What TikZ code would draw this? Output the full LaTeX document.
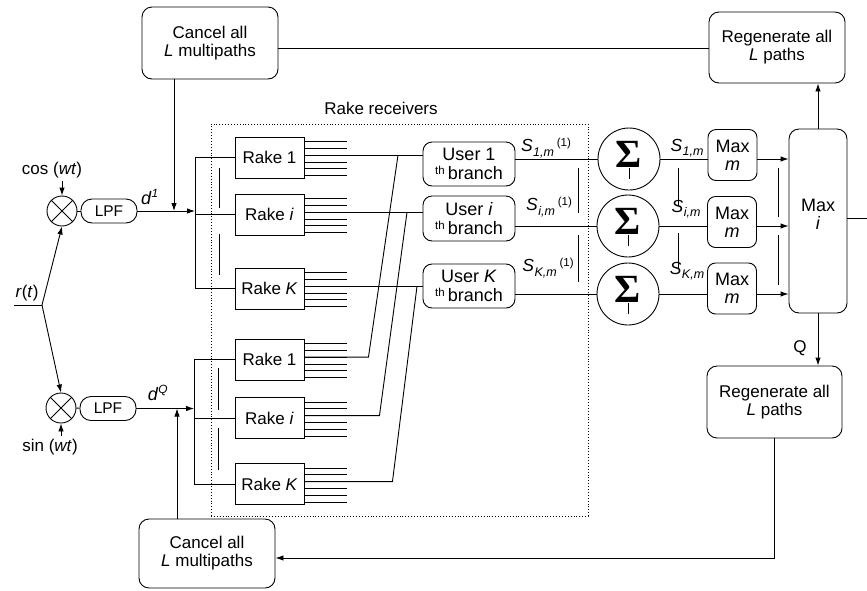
\documentclass[tikz,border=0pt]{standalone}
\usepackage{fontspec}
\setmainfont{Liberation Sans}
\newfontfamily\sigfont{Liberation Serif}
\usetikzlibrary{arrows.meta,calc}
\newcommand\thbranch{\raisebox{5pt}{\fontsize{11.5}{11.5}\selectfont th}\,branch}
\newcommand\Slab[1]{{\fontsize{17.5}{17.5}\selectfont\textit{S}}\kern0.5pt\raisebox{-4.5pt}{\fontsize{12.5}{12.5}\selectfont\itshape #1,m}}
\newcommand\oneup{\raisebox{5pt}{\fontsize{11.5}{11.5}\selectfont (1)}}
\begin{document}
\begin{tikzpicture}[x=1pt,y=-1pt,line width=0.9pt,
 txt/.style={font=\fontsize{17}{18}\selectfont},
 rbox/.style={draw,rounded corners=10pt,align=center,inner sep=0pt,txt},
 rakebox/.style={draw,align=center,inner sep=0pt,minimum width=69pt,minimum height=41pt,txt},
 userbox/.style={draw,rounded corners=9pt,align=center,inner sep=0pt,minimum width=92pt,minimum height=44pt,font=\fontsize{18}{18.5}\selectfont},
 maxbox/.style={draw,rounded corners=8pt,align=center,inner sep=0pt,minimum width=49pt,minimum height=51pt,font=\fontsize{18}{18}\selectfont},
 sumc/.style={draw,circle,minimum size=62pt,inner sep=0pt},
 mixc/.style={draw,circle,minimum size=30pt,inner sep=0pt},
 lpfbox/.style={draw,rounded corners=11pt,minimum width=56pt,minimum height=24pt,inner sep=0pt,font=\fontsize{15.5}{15.5}\selectfont},
 arr/.style={-{Latex[length=8pt,width=5.5pt]}},
 lab/.style={inner sep=0pt,txt},
 sig/.style={inner sep=0pt,font=\fontsize{40}{40}\sigfont\bfseries},
]
\useasboundingbox (0,0) rectangle (867,590);

% big boxes
\node[rbox,minimum width=136pt,minimum height=72pt] (cancelT) at (210,43) {Cancel all\\\textit{L} multipaths};
\node[rbox,minimum width=136pt,minimum height=69pt] (cancelB) at (207,553.5) {Cancel all\\\textit{L} multipaths};
\node[rbox,minimum width=136pt,minimum height=71pt] (regenT) at (777,47.5) {Regenerate all\\\textit{L} paths};
\node[rbox,minimum width=135pt,minimum height=72pt] (regenB) at (774.5,402) {Regenerate all\\\textit{L} paths};
\node[draw,rounded corners=10pt,minimum width=58pt,minimum height=184pt,inner sep=0pt] (maxI) at (818,221) {};
\node[inner sep=0pt,align=center,font=\fontsize{18}{18}\selectfont] (maxItxt) at (818,214) {Max\\\textit{i}};

% rake receivers frame
\node[draw,dotted,minimum width=377pt,minimum height=392pt,inner sep=0pt] (rr) at (399.5,320) {};
\node[lab] (rrlab) at (381,108) {Rake receivers};

% mixers and LPFs
\node[mixc] (m1) at (62,211) {};
\node[mixc] (m2) at (61,408) {};
\foreach \m in {m1,m2}{
  \draw (\m.45) -- (\m.225);
  \draw (\m.135) -- (\m.315);
}
\node[lpfbox] (lpf1) at (109,211) {LPF};
\node[lpfbox] (lpf2) at (108,408.5) {LPF};
\draw (m1) -- (lpf1);
\draw (m2) -- (lpf2);

% input
\coordinate (j) at (42,305);
\coordinate (rin) at (14,305);
\node[lab] (rt) at (27,293) {\textit{r}(\textit{t})};
\draw (rin) -- (j);
\draw[arr] (j) -- (m1.south);
\draw[arr] (j) -- (m2.north);
\node[lab] (cosl) at (52,170) {cos (\textit{wt})};
\node[lab] (sinl) at (50,447) {sin (\textit{wt})};
\draw[arr] (m1 |- cosl.south) ++(0,3) -- (m1.north);
\draw[arr] (m2 |- sinl.north) ++(0,-3) -- (m2.south);
\node[lab] (d1) at (150,197) {{\fontsize{18}{18}\selectfont\textit{d}}\textsuperscript{\itshape 1}};
\node[lab] (dQ) at (158,393) {{\fontsize{18}{18}\selectfont\textit{d}}\textsuperscript{\itshape Q}};

% rakes
\node[rakebox] (ru1) at (269.5,157.5) {Rake 1};
\node[rakebox] (rui) at (269.5,214.5) {Rake \textit{i}};
\node[rakebox] (ruK) at (269.5,288.5) {Rake \textit{K}};
\node[rakebox] (rl1) at (269.5,359.5) {Rake 1};
\node[rakebox] (rli) at (269.5,418) {Rake \textit{i}};
\node[rakebox] (rlK) at (269.5,484) {Rake \textit{K}};
\foreach \r in {ru1,rui,ruK,rl1,rli,rlK}{
  \foreach \k in {0,...,5}{
    \draw ($(\r.north east)+(0,5+6.8*\k)$) -- ++(43,0);
  }
}

% buses
\coordinate (bU) at (195,0);
\coordinate (bL) at (194,0);
\draw (bU |- ru1) -- (bU |- ruK);
\foreach \r in {ru1,rui,ruK}{\draw (bU |- \r) -- (\r.west);}
\draw (bL |- rl1) -- (bL |- rlK);
\foreach \r in {rl1,rli,rlK}{\draw (bL |- \r) -- (\r.west);}
\draw[arr] (lpf1) -- (lpf1 -| bU);
\draw[arr] (lpf2) -- (lpf2 -| bL);
\coordinate (cxT) at (174,0);
\coordinate (cxB) at (177,0);
\draw[arr] (cxT |- cancelT.south) -- (cxT |- lpf1);
\draw[arr] (cxB |- cancelB.north) -- (cxB |- lpf2);
% ellipsis marks near buses
\draw (219,168) -- (219,208);
\draw (219,234) -- (219,275);
\draw (218,368) -- (218,410);
\draw (218,428) -- (218,470);

% users
\node[userbox] (u1) at (469,164) {User 1\\\thbranch};
\node[userbox,minimum height=45pt] (ui) at (469,218.5) {User \textit{i}\\\thbranch};
\node[userbox] (uK) at (469,286) {User \textit{K}\\\thbranch};

% rake to user connections
\draw ($(ru1.north east)+(0,18.6)$) coordinate (o1) -- (o1 -| u1.west);
\draw ($(rui.north east)+(0,18.6)$) coordinate (oi) -- (oi -| ui.west);
\draw ($(ruK.north east)+(0,18.6)$) coordinate (oK) -- (oK -| uK.west);
\coordinate (x1) at (398,0);
\coordinate (xi) at (407,0);
\coordinate (xK) at (417,0);
\draw ($(rl1.north east)+(0,18.6)$) -- ++(64,0) -- (x1 |- o1);
\draw ($(rli.north east)+(0,18.6)$) -- ++(75,0) -- (xi |- oi);
\draw ($(rlK.north east)+(0,18.6)$) -- ++(88,0) -- (xK |- oK);

% sums
\node[sumc] (s1) at (629,159) {};
\node[sumc] (si) at (628,226) {};
\node[sumc] (sK) at (628,294) {};
\foreach \s/\n in {s1/g1,si/gi,sK/gK}{
  \node[sig] (\n) at ($(\s.center)+(0,-5)$) {Σ};
  \draw (\n.south) -- ++(0,11);
}
\draw (u1.east |- s1) -- (s1);
\draw (ui.east |- si) -- (si);
\draw (uK.east |- sK) -- (sK);
\node[lab] (S1a) at (546,148) {\Slab{1}\,\oneup};
\node[lab] (Sia) at (549,207) {\Slab{\textit{i}}\,\oneup};
\node[lab] (SKa) at (548,268) {\Slab{\textit{K}}\,\oneup};
\draw (578,168) -- (578,213);
\draw (578,235) -- (578,282);

% max m
\node[maxbox] (mm1) at (732.5,155) {Max\\\textit{m}};
\node[maxbox] (mmi) at (732,222) {Max\\\textit{m}};
\node[maxbox] (mmK) at (732,288.5) {Max\\\textit{m}};
\draw (s1) -- (s1 -| mm1.west);
\draw (si) -- (si -| mmi.west);
\draw (sK) -- (sK -| mmK.west);
\node[lab] (S1b) at (687,148) {\Slab{1}};
\node[lab] (Sib) at (686,209) {\Slab{\textit{i}}};
\node[lab] (SKb) at (687,271) {\Slab{\textit{K}}};
\draw (678,168) -- (678,206);
\draw (678,233) -- (678,268);
\draw[arr] (s1 -| mm1.east) -- (s1 -| maxI.west);
\draw[arr] (si -| mmi.east) -- (si -| maxI.west);
\draw[arr] (sK -| mmK.east) -- (sK -| maxI.west);
\draw (778,168) -- (778,217);
\draw (778,235) -- (778,285);

% outputs and feedback
\coordinate (out) at (867,218);
\draw (maxI.east |- out) -- (out);
\draw[arr] (maxI.north) -- (maxI.north |- regenT.south);
\draw[arr] (maxI.south) -- (maxI.south |- regenB.north);
\node[lab] (Q) at (800,348) {Q};
\draw ($(cancelT.east)+(0,5)$) coordinate (tl) -- (tl -| regenT.west);
\draw[arr] (regenB.south) |- ($(cancelB.east)+(0,4.5)$);
\end{tikzpicture}
\end{document}
